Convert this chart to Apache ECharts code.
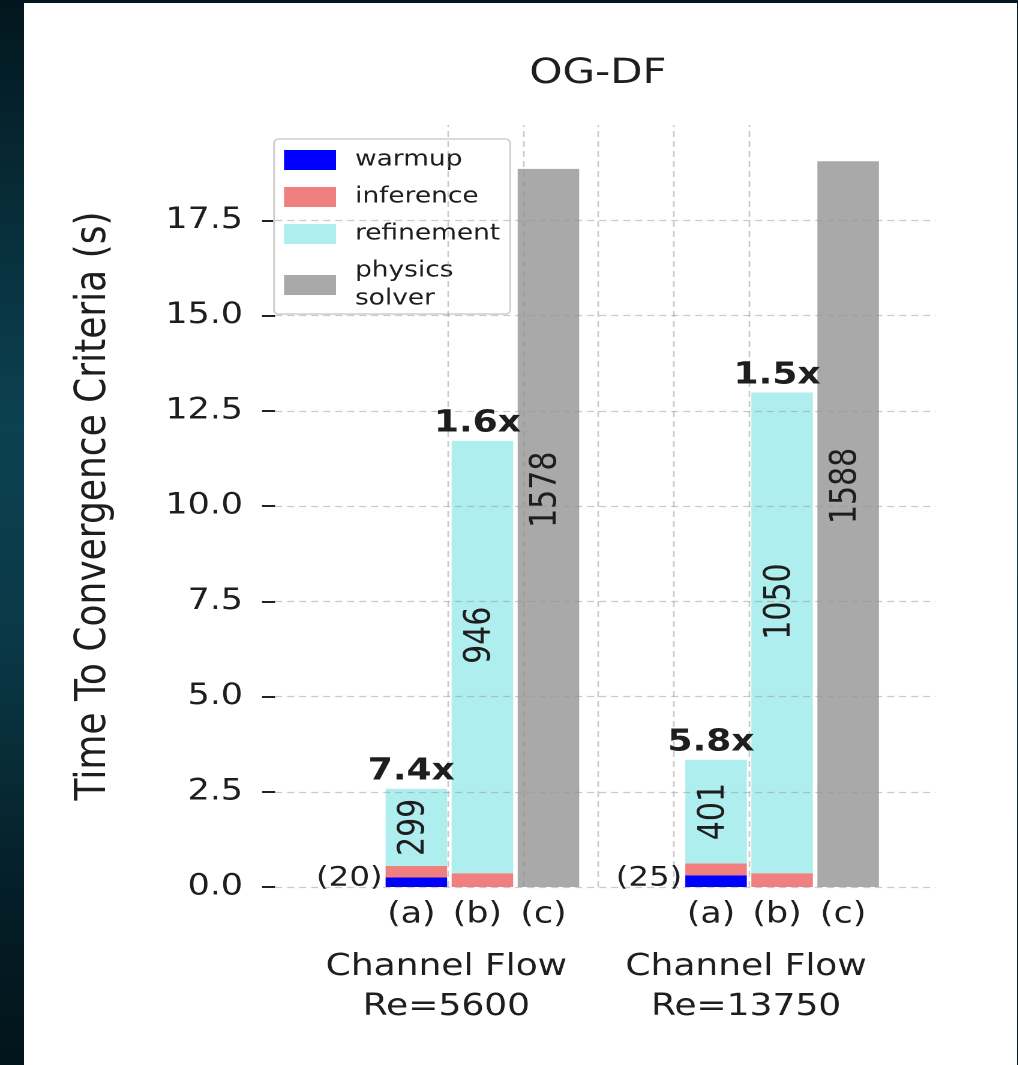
<!DOCTYPE html>
<html>
<head>
<meta charset="utf-8">
<script src="https://cdn.jsdelivr.net/npm/echarts@6/dist/echarts.min.js"></script>
<style>
  html, body { margin: 0; padding: 0; }
  body {
    width: 1018px; height: 1065px; overflow: hidden; position: relative;
    background: linear-gradient(to bottom, #02161d 0%, #072b37 18%, #0c4152 40%, #0a3846 60%, #041d26 85%, #02141a 100%);
  }
  #panel {
    position: absolute; left: 24px; top: 3px; width: 993px; height: 1062px;
    background: #ffffff; overflow: hidden;
  }
  #chart {
    position: absolute; left: 0; top: 0; width: 827.5px; height: 1062px;
    transform: scaleX(1.2); transform-origin: 0 0;
  }
</style>
</head>
<body>
<div id="panel"><div id="chart"></div></div>
<script>
// Time to convergence for the OG-DF pipeline on two channel-flow cases.
const groups = ['Channel Flow\nRe=5600', 'Channel Flow\nRe=13750'];
const methods = ['(a)', '(b)', '(c)'];
const seriesNames = ['warmup', 'inference', 'refinement', 'physics\nsolver'];
const seriesColors = ['#0000ff', '#f08080', '#afeeee', '#a9a9a9'];

// seconds, [group][method]
const warmup     = [[0.25, 0.00, 0.00], [0.31, 0.00, 0.00]];
const inference  = [[0.30, 0.36, 0.00], [0.31, 0.36, 0.00]];
const refinement = [[2.03, 11.35, 0.00], [2.72, 12.62, 0.00]];
const solver     = [[0.00, 0.00, 18.85], [0.00, 0.00, 19.05]];

// solver iterations written inside the bars, [group][method]
const iterations = [[299, 946, 1578], [401, 1050, 1588]];
// warmup iterations, one per group
const warmupIters = [20, 25];
// speed-up over the physics solver for (a) and (b)
const speedups = [[7.4, 1.6], [5.8, 1.5]];

const yTicks = [0, 2.5, 5, 7.5, 10, 12.5, 15, 17.5];

// ---- layout ----
const S = 1.2;                       // the canvas is stretched horizontally by S
const FONT = '"DejaVu Sans", Verdana, sans-serif';
const INK = '#1e1e1e';
const BAR_W = 0.818;                 // bar width in x units
const X0 = -0.419, BAR_STEP = 0.878, GROUP_STEP = 3.984;
const X_MIN = -2.298, X_MAX = 6.484;
const V_GRID = [0, 1, 2, 3, 4];
const barX = (g, j) => X0 + g * GROUP_STEP + j * BAR_STEP;

const layers = [warmup, inference, refinement, solver];

// stacked segments per layer: [x, start, end, group, method]
function segments(layerIdx) {
  const out = [];
  groups.forEach((_, g) => {
    methods.forEach((__, j) => {
      let base = 0;
      for (let k = 0; k < layerIdx; k++) base += layers[k][g][j];
      const v = layers[layerIdx][g][j];
      if (v > 0) out.push([barX(g, j), base, base + v, g, j]);
    });
  });
  return out;
}

function total(g, j) {
  return layers.reduce((s, l) => s + l[g][j], 0);
}

function renderSegment(params, api) {
  const x = api.value(0);
  const p0 = api.coord([x, api.value(1)]);
  const p1 = api.coord([x, api.value(2)]);
  const w = api.size([BAR_W, 0])[0];
  return {
    type: 'rect',
    shape: { x: p0[0] - w / 2, y: p1[1], width: w, height: p0[1] - p1[1] },
    style: { fill: api.visual('color') }
  };
}

function txt(x, y, text, opts) {
  return {
    type: 'text', x: x, y: y, rotation: opts.rotation || 0,
    style: {
      text: text, fill: INK, align: opts.align || 'center',
      verticalAlign: opts.verticalAlign || 'middle',
      font: (opts.weight || 'normal') + ' ' + opts.size + 'px ' + FONT,
      lineHeight: opts.lineHeight
    }
  };
}

// annotations: one item per bar
const annoData = [];
groups.forEach((_, g) => methods.forEach((__, j) => annoData.push([barX(g, j), g, j])));

function renderAnno(params, api) {
  const x = api.value(0), g = api.value(1), j = api.value(2);
  const zero = api.coord([x, 0]);
  const cx = zero[0];
  const w = api.size([BAR_W, 0])[0];
  const tot = total(g, j);
  const top = api.coord([x, tot])[1];
  const children = [];
  // bar letter under the axis
  children.push(txt(cx - 5 / S, zero[1] + 28, methods[j], { size: 29 }));
  if (j === 0) {
    // speed-up above the bar
    children.push(txt(cx - 5 / S, top - 2, speedups[g][j].toFixed(1) + 'x',
      { size: 30, weight: 'bold', verticalAlign: 'bottom' }));
    // refinement iterations, centred in the refinement segment
    const lo = warmup[g][j] + inference[g][j];
    const mid = api.coord([x, lo + refinement[g][j] / 2])[1];
    children.push(txt(cx - 2 / S, mid, String(iterations[g][j]), { size: 30, rotation: Math.PI / 2 }));
    // warmup iterations left of the bar
    children.push(txt(cx - w / 2 - 3 / S, zero[1] + 5, '(' + warmupIters[g] + ')',
      { size: 27, align: 'right', verticalAlign: 'bottom' }));
  } else {
    if (j === 1) {
      children.push(txt(cx - 5 / S, top - 2, speedups[g][j].toFixed(1) + 'x',
        { size: 30, weight: 'bold', verticalAlign: 'bottom' }));
      // case name under the group
      children.push(txt(cx - 36 / S, zero[1] + 100, groups[g], { size: 30, lineHeight: 40 }));
    }
    // iterations written upward from half the bar height
    const mid = api.coord([x, tot / 2])[1];
    children.push(txt(cx - 2 / S, mid, String(iterations[g][j]),
      { size: 30, rotation: Math.PI / 2, align: 'left' }));
  }
  return { type: 'group', children: children };
}

const chart = echarts.init(document.getElementById('chart'), null, { renderer: 'canvas', devicePixelRatio: 2 });

const barSeries = seriesNames.map((name, k) => ({
  name: name,
  type: 'custom',
  renderItem: renderSegment,
  itemStyle: { color: seriesColors[k] },
  encode: { x: 0, y: [1, 2] },
  data: segments(k),
  z: 2,
  silent: true,
  animation: false
}));

const gridStyle = { color: 'rgba(150,150,150,0.5)', type: [6, 4], width: 1.3 };

const option = {
  animation: false,
  textStyle: { fontFamily: FONT },
  grid: { left: (275 - 24) / S, right: 827.5 - (935 - 24) / S, top: 122, bottom: 178, containLabel: false },
  graphic: [{
    type: 'text', x: (598 - 24) / S, y: 71,
    style: { text: 'OG-DF', align: 'center', verticalAlign: 'middle', font: 'normal 35px ' + FONT, fill: INK }
  }],
  legend: {
    data: seriesNames,
    orient: 'vertical',
    left: (274 - 24) / S, top: 136,
    padding: [10, 10 / S, 4, 10 / S],
    itemWidth: 52 / S, itemHeight: 20, itemGap: 15,
    icon: 'rect',
    backgroundColor: 'rgba(255,255,255,0.8)',
    borderColor: '#cfcfcf', borderWidth: 1.5, borderRadius: 4,
    formatter: name => '{t|' + name + '}',
    textStyle: {
      color: INK,
      rich: { t: { fontFamily: FONT, fontSize: 22, lineHeight: 28, color: INK, padding: [0, 0, 0, 19 / S - 5] } }
    },
    selectedMode: false
  },
  xAxis: {
    type: 'value', min: X_MIN, max: X_MAX,
    axisLine: { show: false, onZero: false }, axisTick: { show: false }, axisLabel: { show: false }, splitLine: { show: false }
  },
  yAxis: {
    type: 'value', min: 0, max: 20, interval: 2.5,
    name: 'Time To Convergence Criteria (s)',
    nameLocation: 'middle', nameGap: 133,
    nameTextStyle: { fontSize: 36, color: INK, fontFamily: FONT },
    axisLine: { show: false, onZero: false },
    axisTick: { show: true, length: 13 / S, lineStyle: { color: '#222', width: 2 }, customValues: yTicks },
    axisLabel: {
      customValues: yTicks, margin: (275 - 243) / S, fontSize: 29, color: INK, fontFamily: FONT,
      formatter: v => Number(v).toFixed(1)
    },
    splitLine: { show: false }
  },
  series: barSeries.concat([
    {
      name: 'grid',
      type: 'line',
      data: [],
      z: 3,
      silent: true,
      markLine: {
        silent: true, symbol: 'none', animation: false,
        label: { show: false },
        lineStyle: gridStyle,
        data: yTicks.map(v => ({ yAxis: v })).concat(V_GRID.map(v => ({ xAxis: v })))
      }
    },
    {
      name: 'labels',
      type: 'custom',
      renderItem: renderAnno,
      encode: { x: 0 },
      data: annoData,
      z: 6,
      silent: true,
      animation: false
    }
  ])
};

chart.setOption(option);
</script>
</body>
</html>
